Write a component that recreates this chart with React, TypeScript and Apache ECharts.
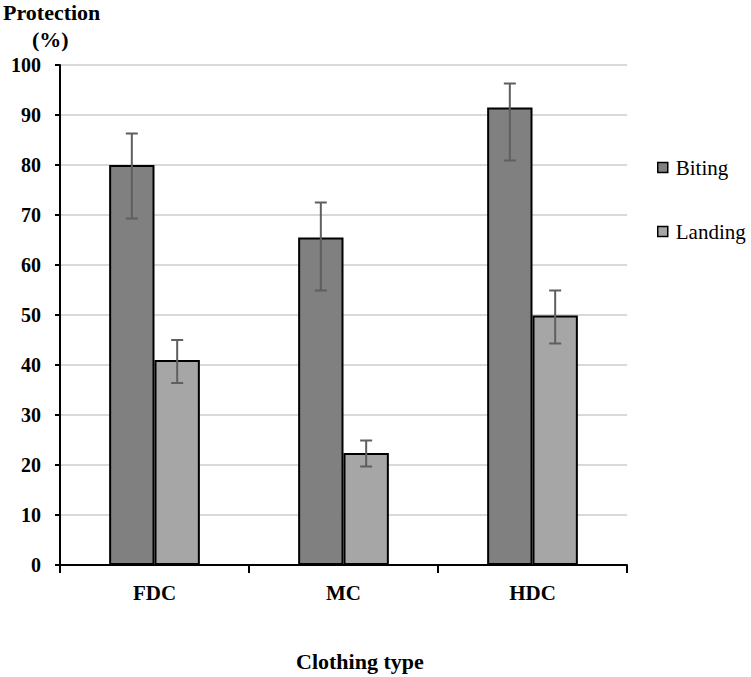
import React, { useEffect, useRef } from "react";
import * as echarts from "echarts";

const categories = ["FDC", "MC", "HDC"];
const bitingValues = [80, 65.5, 91.5];
const bitingLow = [69.3, 54.9, 80.9];
const bitingHigh = [86.3, 72.5, 96.3];
const landingValues = [41, 22.4, 49.9];
const landingLow = [36.4, 19.7, 44.3];
const landingHigh = [45, 24.9, 54.9];
const yTicks = [0, 10, 20, 30, 40, 50, 60, 70, 80, 90, 100];

const FONT = "'Liberation Serif', 'Times New Roman', serif";
const BAR_FRAC = 0.24;

function errorSeries(name: string, low: number[], high: number[], side: number) {
  return {
    name: name + " error",
    type: "custom",
    z: 5,
    silent: true,
    data: categories.map((_, i) => [i, low[i], high[i]]),
    encode: { x: 0, y: [1, 2] },
    renderItem: (params: any, api: any) => {
      const i = api.value(0);
      const cw = api.size([1, 0])[0];
      const bw = cw * BAR_FRAC;
      const lo = api.coord([i, api.value(1)]);
      const hi = api.coord([i, api.value(2)]);
      const x = lo[0] + side * bw / 2;
      const cap = 6;
      const style = { stroke: "#5f5f5f", lineWidth: 2 };
      return {
        type: "group",
        children: [
          { type: "line", shape: { x1: x, y1: hi[1], x2: x, y2: lo[1] }, style },
          { type: "line", shape: { x1: x - cap, y1: hi[1], x2: x + cap, y2: hi[1] }, style },
          { type: "line", shape: { x1: x - cap, y1: lo[1], x2: x + cap, y2: lo[1] }, style },
        ],
      };
    },
  };
}

export default function App() {
  const ref = useRef<HTMLDivElement>(null);
  useEffect(() => {
    if (!ref.current) return;
    const chart = echarts.init(ref.current, null, { renderer: "svg" });
    chart.setOption({
      animation: false,
      backgroundColor: "#ffffff",
      textStyle: { fontFamily: FONT },
      grid: { left: 60, right: 124, top: 65, bottom: 112 },
      legend: {
        orient: "vertical",
        left: 652,
        top: 152,
        itemWidth: 10,
        itemHeight: 10,
        itemGap: 43,
        icon: "rect",
        data: ["Biting", "Landing"],
        textStyle: { fontFamily: FONT, fontSize: 21, color: "#000", lineHeight: 20, padding: [0, 0, 0, 3] },
        itemStyle: { borderColor: "#000", borderWidth: 1.5 },
      },
      xAxis: {
        type: "category",
        data: categories,
        axisLine: { lineStyle: { color: "#000", width: 2 } },
        axisTick: { show: true, length: 8, lineStyle: { color: "#000", width: 2 } },
        axisLabel: { fontFamily: FONT, fontSize: 21, fontWeight: "bold", color: "#000", margin: 17 },
      },
      yAxis: {
        type: "value",
        min: yTicks[0],
        max: yTicks[yTicks.length - 1],
        interval: 10,
        axisLine: { show: true, lineStyle: { color: "#000", width: 2 } },
        axisTick: { show: true, length: 5, lineStyle: { color: "#000", width: 2 } },
        axisLabel: { fontFamily: FONT, fontSize: 20, fontWeight: "bold", color: "#000", margin: 19 },
        splitLine: { lineStyle: { color: "#d9d9d9", width: 2 } },
      },
      series: [
        {
          name: "Biting",
          type: "bar",
          data: bitingValues,
          barWidth: "24%",
          barGap: "0%",
          itemStyle: { color: "#808080", borderColor: "#000", borderWidth: 2 },
        },
        {
          name: "Landing",
          type: "bar",
          data: landingValues,
          barWidth: "24%",
          barGap: "0%",
          itemStyle: { color: "#a6a6a6", borderColor: "#000", borderWidth: 2 },
        },
        errorSeries("Biting", bitingLow, bitingHigh, -1),
        errorSeries("Landing", landingLow, landingHigh, 1),
      ],
      graphic: [
        { type: "text", left: 3, top: 1, style: { text: "Protection", font: "bold 22px " + FONT, fill: "#000" } },
        { type: "text", left: 32, top: 28, style: { text: "(%)", font: "bold 22px " + FONT, fill: "#000" } },
        { type: "text", left: 296, top: 650, style: { text: "Clothing type", font: "bold 22px " + FONT, fill: "#000" } },
      ],
    });
    return () => chart.dispose();
  }, []);
  return <div ref={ref} style={{ width: 751, height: 677, position: "absolute", left: 0, top: 0 }} />;
}
